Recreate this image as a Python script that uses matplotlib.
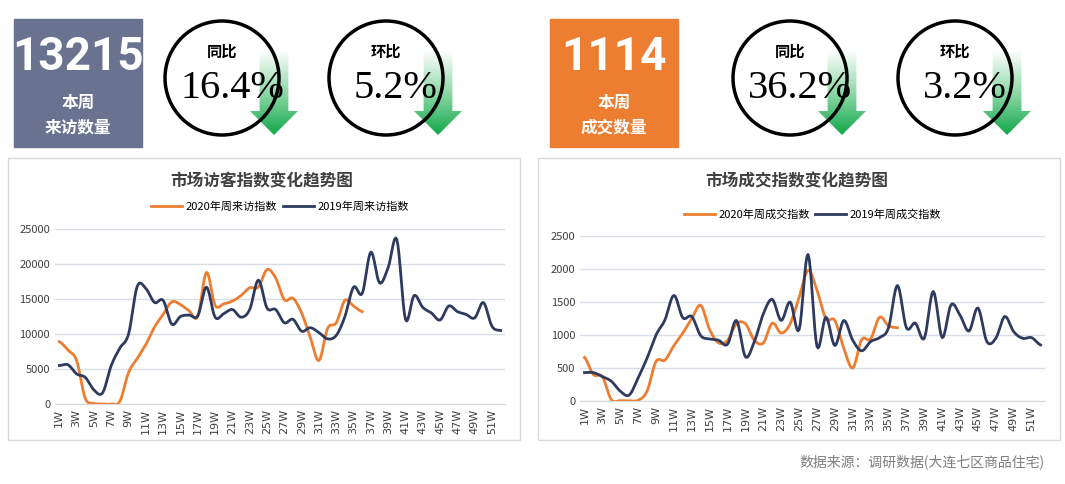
import numpy as np
import matplotlib
matplotlib.use('Agg')
import matplotlib.pyplot as plt
from matplotlib.patches import Rectangle, Circle, Polygon

plt.rcParams['font.family'] = ['Noto Sans CJK SC', 'DejaVu Sans']

weeks = [f'{i}W' for i in range(1, 53)]

visit_2019 = [5500, 5600, 4300, 3800, 2000, 1600, 5500, 8000, 10000, 16800,
              16500, 14500, 14800, 11400, 12500, 12700, 12600, 16700, 12400, 12900,
              13500, 12400, 13500, 17700, 13700, 13500, 11600, 12100, 10400, 10900,
              10200, 9300, 9800, 12500, 16700, 15800, 21700, 17300, 19500, 23500,
              12100, 15500, 13800, 13000, 12000, 14000, 13200, 12800, 12300, 14500,
              11100, 10500]
visit_2020 = [8900, 7700, 6200, 800, 100, 0, 0, 400, 4500, 6500,
              8500, 11000, 12800, 14600, 14200, 13300, 12500, 18800, 14100, 14300,
              14700, 15500, 16600, 16700, 19200, 18000, 14900, 15100, 13000, 9500,
              6200, 10800, 11600, 14800, 14000, 13200]

deal_2019 = [430, 430, 370, 300, 150, 90, 350, 650, 1000, 1230,
             1600, 1260, 1280, 990, 940, 920, 860, 1220, 670, 900,
             1320, 1540, 1220, 1500, 1080, 2220, 830, 1270, 840, 1220,
             920, 760, 900, 960, 1110, 1750, 1110, 1180, 950, 1660,
             960, 1460, 1300, 1060, 1410, 900, 950, 1280, 1050, 950,
             960, 850]
deal_2020 = [660, 400, 370, 20, 5, 5, 10, 150, 600, 620,
             840, 1030, 1250, 1450, 1080, 880, 920, 1170, 1170, 920,
             880, 1180, 1030, 1170, 1570, 1980, 1680, 1250, 1220, 800,
             500, 930, 940, 1270, 1140, 1110]

ORANGE = '#ed7d31'
NAVY = '#2e3b5e'
W, H = 1065, 484

fig = plt.figure(figsize=(W / 100, H / 100), dpi=100)
bg = fig.add_axes([0, 0, 1, 1])
bg.set_xlim(0, W)
bg.set_ylim(H, 0)
bg.axis('off')


def smooth(y, n=8):
    # catmull-rom-ish smoothing like excel smoothed lines
    y = np.asarray(y, float)
    xs, ys = [], []
    for i in range(len(y) - 1):
        p0 = y[max(i - 1, 0)]; p1 = y[i]; p2 = y[i + 1]; p3 = y[min(i + 2, len(y) - 1)]
        for t in np.linspace(0, 1, n, endpoint=False):
            ys.append(0.5 * ((2 * p1) + (-p0 + p2) * t + (2 * p0 - 5 * p1 + 4 * p2 - p3) * t ** 2
                             + (-p0 + 3 * p1 - 3 * p2 + p3) * t ** 3))
            xs.append(i + t)
    xs.append(len(y) - 1); ys.append(y[-1])
    return np.array(xs), np.array(ys)


def arrow(x0, x1, ytop, ytip):
    cx = (x0 + x1) / 2
    sw = (x1 - x0) * 0.3
    yh = ytip - (x1 - x0) * 0.5
    pts = [(cx - sw, ytop), (cx + sw, ytop), (cx + sw, yh), (x1, yh), (cx, ytip),
           (x0, yh), (cx - sw, yh)]
    poly = Polygon(pts, closed=True, facecolor='none', edgecolor='none')
    bg.add_patch(poly)
    grad = np.linspace(0, 1, 100).reshape(-1, 1)
    cmap = matplotlib.colors.LinearSegmentedColormap.from_list('g', ['#ffffff', '#8fd9a8', '#12a84a'])
    im = bg.imshow(grad, extent=[x0, x1, ytip, ytop], cmap=cmap, aspect='auto', zorder=2)
    im.set_clip_path(poly)


def header(x, color, number, l1, l2, c1, v1, c2, v2):
    bg.add_patch(Rectangle((x, 19), 128, 128, color=color, zorder=1))
    bg.text(x + 64, 57, number, color='white', fontsize=33, fontweight='bold', ha='center', va='center',
            fontfamily='Roboto')
    bg.text(x + 64, 103, l1, color='white', fontsize=12, fontweight='bold', ha='center', va='center')
    bg.text(x + 64, 127, l2, color='white', fontsize=12, fontweight='bold', ha='center', va='center')
    for cx, lab, val in [(c1, '同比', v1), (c2, '环比', v2)]:
        arrow(cx + 28, cx + 76, 50, 135)
        bg.add_patch(Circle((cx, 78), 57, facecolor='none', edgecolor='black', lw=2.5, zorder=3))
        bg.text(cx, 52, lab, fontsize=11, fontweight='bold', ha='center', va='center', zorder=4)
        bg.text(cx + 10, 88, val, fontsize=29, ha='center', va='center', zorder=4,
                fontfamily='Liberation Serif')


header(14, '#69738f', '13215', '本周', '来访数量', 222, '16.4%', 386, '5.2%')
header(550, ORANGE, '1114', '本周', '成交数量', 790, '36.2%', 955, '3.2%')

# panel frames
for x0, x1 in [(8, 520), (538, 1060)]:
    bg.add_patch(Rectangle((x0, 158), x1 - x0, 282, facecolor='none', edgecolor='#d9d9d9', lw=1))

bg.text(1045, 462, '数据来源：调研数据(大连七区商品住宅)', fontsize=10, color='#7f7f7f',
        ha='right', va='center')


def chart(rect, title, lab20, lab19, d20, d19, ymax, step, titlex, titley):
    ax = fig.add_axes(rect)
    for d, c, lab in [(d20, ORANGE, lab20), (d19, NAVY, lab19)]:
        xs, ys = smooth(d)
        ax.plot(xs, ys, color=c, lw=2, label=lab)
    ax.set_xlim(-0.5, 51.5)
    ax.set_ylim(0, ymax)
    ax.set_yticks(np.arange(0, ymax + 1, step))
    ax.set_xticks(range(0, 52, 2))
    ax.set_xticklabels(weeks[::2], rotation=90, fontsize=8, color='#404040', fontfamily='DejaVu Sans')
    ax.tick_params(axis='y', labelsize=8, colors='#404040', length=0)
    ax.tick_params(axis='x', length=0)
    ax.grid(axis='y', color='#d9dde8', lw=1)
    ax.set_axisbelow(True)
    for s in ['top', 'right', 'left']:
        ax.spines[s].set_visible(False)
    ax.spines['bottom'].set_color('#d9d9d9')
    bg.text(titlex, titley, title, fontsize=12, fontweight='bold', color='#404040', ha='center', va='center')
    ax.legend(loc='lower center', bbox_to_anchor=(0.5, 1.04), ncol=2, frameon=False, fontsize=8,
              handlelength=2.8, columnspacing=0.5, handletextpad=0.3)


chart([55 / W, 1 - 404 / H, 450 / W, 175 / H], '市场访客指数变化趋势图',
      '2020年周来访指数', '2019年周来访指数', visit_2020, visit_2019, 25000, 5000, 262, 181)
chart([580 / W, 1 - 401 / H, 465 / W, 165 / H], '市场成交指数变化趋势图',
      '2020年周成交指数', '2019年周成交指数', deal_2020, deal_2019, 2500, 500, 797, 181)

fig.savefig('out.png', dpi=100)
